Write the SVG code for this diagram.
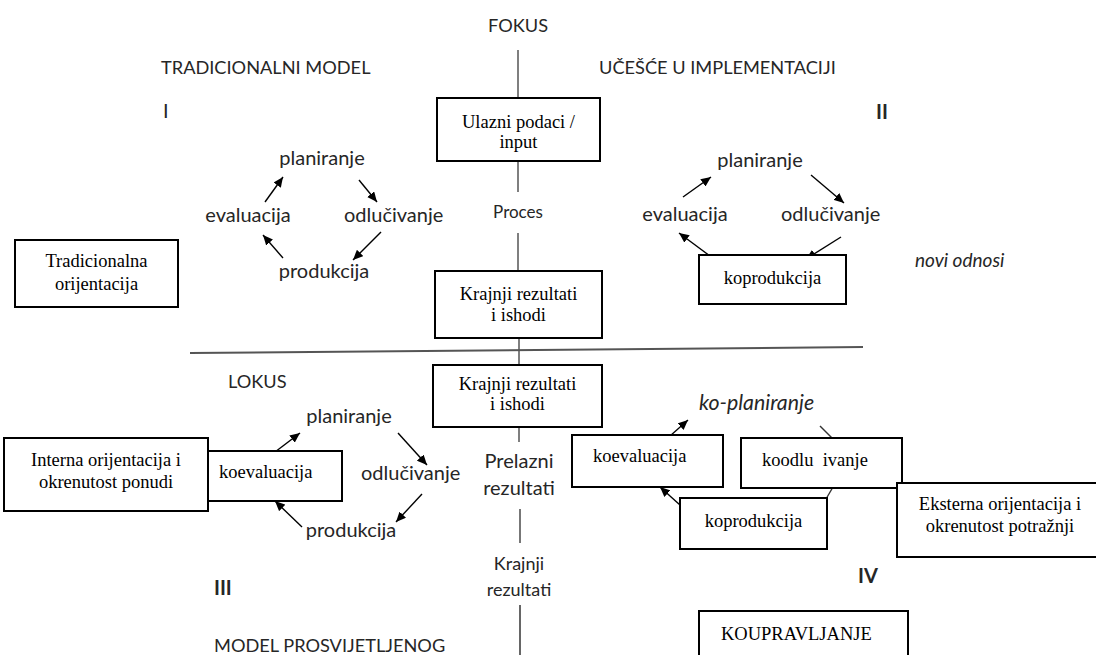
<svg xmlns="http://www.w3.org/2000/svg" width="1096" height="655" viewBox="0 0 1096 655">
<style>
.s{font-family:Lato,"Open Sans","Liberation Sans",sans-serif;fill:#262626;font-size:20px}
.c{font-size:18.2px}
.si{font-family:Lato,"Open Sans","Liberation Sans",sans-serif;fill:#262626;font-style:italic}
.b{font-weight:bold}
.r{font-family:"Liberation Serif","Times New Roman",serif;fill:#000;font-size:18.5px}
.box{fill:#fff;stroke:#000;stroke-width:2}
.ax{stroke:#555;stroke-width:1.5;fill:none}
.ar{stroke:#000;stroke-width:1.4;fill:none;marker-end:url(#ah)}
.ln{stroke:#333;stroke-width:1.4;fill:none}
</style>
<defs>
<marker id="ah" markerUnits="userSpaceOnUse" markerWidth="11" markerHeight="9" refX="10" refY="4.5" orient="auto">
<path d="M0,0 L10,4.5 L0,9 z" fill="#000"/>
</marker>
</defs>
<rect width="1096" height="655" fill="#fff"/>

<g id="connectors">
<line class="ax" x1="518" y1="50" x2="518" y2="98"/>
<line class="ax" x1="518" y1="161" x2="518" y2="192"/>
<line class="ax" x1="518" y1="233" x2="518" y2="271"/>
<line class="ax" x1="519" y1="338" x2="519" y2="365"/>
<line class="ax" x1="519" y1="427" x2="519" y2="442"/>
<line class="ax" x1="520" y1="509" x2="520" y2="543" style="stroke:#777;stroke-width:2"/>
<line class="ax" x1="520" y1="605" x2="520" y2="655" style="stroke:#333"/>
<line x1="190" y1="353" x2="863" y2="347" stroke="#555" stroke-width="2"/>

<line class="ar" x1="265" y1="202" x2="283" y2="177"/>
<line class="ar" x1="359" y1="180" x2="377" y2="202"/>
<line class="ar" x1="381" y1="232" x2="353" y2="260"/>
<line class="ar" x1="283" y1="258" x2="263" y2="235"/>

<line class="ar" x1="683" y1="197" x2="711" y2="177"/>
<line class="ar" x1="811" y1="175" x2="844" y2="203"/>
<line class="ar" x1="841" y1="237" x2="806" y2="259"/>
<line class="ar" x1="710" y1="256" x2="679" y2="233"/>

<line class="ar" x1="275" y1="452" x2="300" y2="433"/>
<line class="ar" x1="398" y1="433" x2="427" y2="465"/>
<line class="ar" x1="422" y1="494" x2="396" y2="522"/>
<line class="ar" x1="302" y1="527" x2="275" y2="501"/>

<line class="ar" x1="670" y1="436" x2="688" y2="420"/>
<line class="ln" x1="820" y1="426" x2="833" y2="439"/>
<line class="ln" x1="833" y1="487" x2="826" y2="499"/>
<line class="ar" x1="680" y1="505" x2="660" y2="487"/>
</g>

<g id="labels">
<text class="s c" x="518" y="32" text-anchor="middle">FOKUS</text>
<text class="s c" x="161" y="74">TRADICIONALNI MODEL</text>
<text class="s c" x="599" y="74">UČEŠĆE U IMPLEMENTACIJI</text>
<text class="s" x="163" y="118">I</text>
<text class="s b" x="876" y="119">II</text>
<text class="s" x="518" y="218" text-anchor="middle" style="font-size:17px">Proces</text>
<text class="s c" x="228" y="388">LOKUS</text>
<text class="s" x="519" y="468" text-anchor="middle">Prelazni</text>
<text class="s" x="519" y="495" text-anchor="middle">rezultati</text>
<text class="s" x="519" y="570" text-anchor="middle" style="font-size:18px">Krajnji</text>
<text class="s" x="519" y="596" text-anchor="middle" style="font-size:18px">rezultati</text>
<text class="s b" x="214" y="595">III</text>
<text class="s b" x="858" y="583">IV</text>
<text class="s c" x="214" y="652">MODEL PROSVIJETLJENOG</text>
<text class="si" x="915" y="267" style="font-size:19px">novi odnosi</text>
<text class="si" x="699" y="410" style="font-size:21.3px">ko-planiranje</text>
</g>

<g id="cycle-1">
<text class="s" x="322" y="165" text-anchor="middle">planiranje</text>
<text class="s" x="248" y="222" text-anchor="middle">evaluacija</text>
<text class="s" x="344" y="222">odlučivanje</text>
<text class="s" x="324" y="278" text-anchor="middle">produkcija</text>
</g>
<g id="cycle-2">
<text class="s" x="760" y="167" text-anchor="middle">planiranje</text>
<text class="s" x="685" y="221" text-anchor="middle">evaluacija</text>
<text class="s" x="781" y="221">odlučivanje</text>
</g>
<g id="cycle-3">
<text class="s" x="349" y="423" text-anchor="middle">planiranje</text>
<text class="s" x="361" y="480">odlučivanje</text>
<text class="s" x="351" y="537" text-anchor="middle">produkcija</text>
</g>

<g id="node-ulazni">
<rect class="box" x="437" y="98" width="163" height="63"/>
<text class="r" x="518.5" y="128" text-anchor="middle">Ulazni podaci /</text>
<text class="r" x="518.5" y="148" text-anchor="middle">input</text>
</g>
<g id="node-tradicionalna">
<rect class="box" x="15" y="240" width="163" height="67"/>
<text class="r" x="96.5" y="267" text-anchor="middle">Tradicionalna</text>
<text class="r" x="96.5" y="290" text-anchor="middle">orijentacija</text>
</g>
<g id="node-krajnji-1">
<rect class="box" x="435" y="271" width="167" height="67"/>
<text class="r" x="518.5" y="300" text-anchor="middle">Krajnji rezultati</text>
<text class="r" x="518.5" y="321" text-anchor="middle">i ishodi</text>
</g>
<g id="node-koprodukcija-2">
<rect class="box" x="699" y="255" width="147" height="49"/>
<text class="r" x="772.5" y="284" text-anchor="middle">koprodukcija</text>
</g>
<g id="node-krajnji-2">
<rect class="box" x="433" y="365" width="169" height="62"/>
<text class="r" x="517.5" y="390" text-anchor="middle">Krajnji rezultati</text>
<text class="r" x="517.5" y="410" text-anchor="middle">i ishodi</text>
</g>
<g id="node-koevaluacija-3">
<rect class="box" x="208" y="451" width="134" height="50"/>
<text class="r" x="219" y="478">koevaluacija</text>
</g>
<g id="node-interna">
<rect class="box" x="4" y="438" width="204" height="73"/>
<text class="r" x="106" y="466" text-anchor="middle">Interna orijentacija i</text>
<text class="r" x="106" y="488" text-anchor="middle">okrenutost ponudi</text>
</g>
<g id="node-koevaluacija-4">
<rect class="box" x="572" y="435" width="151" height="52"/>
<text class="r" x="593" y="462">koevaluacija</text>
</g>
<g id="node-koodlucivanje">
<rect class="box" x="741" y="438" width="161" height="50"/>
<text class="r" x="762" y="466" xml:space="preserve" style="white-space:pre">koodlu  ivanje</text>
</g>
<g id="node-koprodukcija-4">
<rect class="box" x="680" y="498" width="147" height="51"/>
<text class="r" x="753.5" y="527" text-anchor="middle">koprodukcija</text>
</g>
<g id="node-eksterna">
<rect class="box" x="897" y="483" width="205" height="74"/>
<text class="r" x="1000" y="510" text-anchor="middle">Eksterna orijentacija i</text>
<text class="r" x="1000" y="532" text-anchor="middle">okrenutost potražnji</text>
</g>
<g id="node-koupravljanje">
<rect class="box" x="699" y="611" width="209" height="52"/>
<text class="r" x="721" y="640">KOUPRAVLJANJE</text>
</g>
</svg>
